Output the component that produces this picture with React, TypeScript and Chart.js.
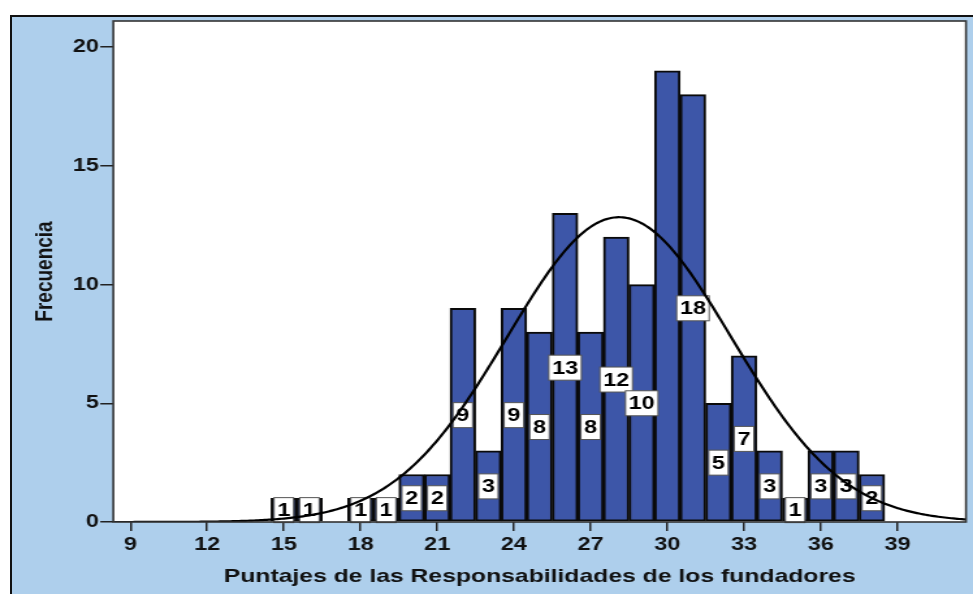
import React, { useEffect, useRef } from "react";
import { Chart, registerables } from "chart.js";

Chart.register(...registerables);

// Histogram of scores (one bin per integer score)
const scores = [15, 16, 17, 18, 19, 20, 21, 22, 23, 24, 25, 26, 27, 28, 29, 30, 31, 32, 33, 34, 35, 36, 37, 38];
const frequencies = [1, 1, 0, 1, 1, 2, 2, 9, 3, 9, 8, 13, 8, 12, 10, 19, 18, 5, 7, 3, 1, 3, 3, 2];
// bins whose count box is not printed
const unlabeledScores = [30];

const xTickValues = [9, 12, 15, 18, 21, 24, 27, 30, 33, 36, 39];
const yTickValues = [0, 5, 10, 15, 20];
const xRange = [8.33, 41.68];
const yRange = [0, 21.1];

const xTitle = "Puntajes de las Responsabilidades de los fundadores";
const yTitle = "Frecuencia";

// Canvas is drawn narrow and widened horizontally
const VIEW_W = 973;
const VIEW_H = 594;
const CANVAS_W = 748;
const STRETCH = VIEW_W / CANVAS_W;

const FONT = "'Liberation Sans', Arial, Helvetica, sans-serif";
const PANEL_BLUE = "#AECFEC";
const BAR_BLUE = "#3D56A8";

// Normal curve fitted to the histogram (mean and sample SD of the binned scores)
function normalCurve() {
  let n = 0;
  let sum = 0;
  scores.forEach((s, i) => {
    n += frequencies[i];
    sum += s * frequencies[i];
  });
  const mean = sum / n;
  let ss = 0;
  scores.forEach((s, i) => {
    ss += frequencies[i] * (s - mean) * (s - mean);
  });
  const sd = Math.sqrt(ss / (n - 1));
  const pts: { x: number; y: number }[] = [];
  const steps = 400;
  for (let k = 0; k <= steps; k++) {
    const x = xRange[0] + ((xRange[1] - xRange[0]) * k) / steps;
    const z = (x - mean) / sd;
    pts.push({ x, y: (n / (sd * Math.sqrt(2 * Math.PI))) * Math.exp(-0.5 * z * z) });
  }
  return pts;
}

const plotPanel = {
  id: "plotPanel",
  beforeDraw(chart: any) {
    const { ctx, chartArea: a } = chart;
    ctx.save();
    ctx.fillStyle = "#ffffff";
    ctx.fillRect(a.left, a.top, a.right - a.left, a.bottom - a.top);
    ctx.restore();
  },
  afterDatasetDraw(chart: any, args: any) {
    if (args.meta.type !== "bar") return;
    const { ctx } = chart;
    const yScale = chart.scales.y;
    ctx.save();
    ctx.font = `bold 18px ${FONT}`;
    ctx.textAlign = "center";
    ctx.textBaseline = "middle";
    args.meta.data.forEach((bar: any, i: number) => {
      const v = frequencies[i];
      if (!v || unlabeledScores.includes(scores[i])) return;
      const text = String(v);
      const w = ctx.measureText(text).width + 5;
      const h = 25;
      const cx = bar.x;
      const cy = yScale.getPixelForValue(v / 2);
      ctx.fillStyle = "#ffffff";
      ctx.fillRect(cx - w / 2, cy - h / 2, w, h);
      ctx.strokeStyle = "#555555";
      ctx.lineWidth = 1;
      ctx.strokeRect(cx - w / 2, cy - h / 2, w, h);
      ctx.fillStyle = "#000000";
      ctx.fillText(text, cx, cy + 1);
    });
    ctx.restore();
  },
  afterDraw(chart: any) {
    const { ctx, chartArea: a } = chart;
    ctx.save();
    ctx.strokeStyle = "#333333";
    ctx.lineWidth = 1.6;
    ctx.strokeRect(a.left, a.top, a.right - a.left, a.bottom - a.top);
    ctx.restore();
  },
};

export default function App() {
  const canvasRef = useRef<HTMLCanvasElement | null>(null);

  useEffect(() => {
    const canvas = canvasRef.current;
    if (!canvas) return;
    const chart = new Chart(canvas, {
      type: "bar",
      data: {
        datasets: [
          {
            type: "line",
            label: "Normal",
            data: normalCurve(),
            borderColor: "#000000",
            borderWidth: 2.2,
            pointRadius: 0,
            tension: 0,
            fill: false,
            order: 0,
          } as any,
          {
            type: "bar",
            label: "Frecuencia",
            data: scores.map((s, i) => ({ x: s, y: frequencies[i] > 0 ? frequencies[i] : null })),
            backgroundColor: BAR_BLUE,
            borderColor: "#0a0a0a",
            borderWidth: 2,
            borderSkipped: false,
            barPercentage: 1,
            categoryPercentage: 1,
            order: 1,
          } as any,
        ],
      },
      options: {
        responsive: false,
        maintainAspectRatio: false,
        animation: false,
        devicePixelRatio: 1,
        layout: { padding: { left: 0, top: 21, right: CANVAS_W - 742.6, bottom: 0 } },
        plugins: { legend: { display: false }, tooltip: { enabled: false } },
        scales: {
          x: {
            type: "linear",
            min: xRange[0],
            max: xRange[1],
            offset: false,
            grid: {
              offset: false,
              drawOnChartArea: false,
              drawTicks: true,
              tickLength: 9,
              color: "#222222",
              lineWidth: 1.5,
            },
            border: { display: false },
            ticks: {
              padding: 3,
              color: "#111111",
              font: { family: FONT, size: 18, weight: "bold" },
            },
            afterBuildTicks: (scale: any) => {
              scale.ticks = xTickValues.map((v) => ({ value: v }));
            },
            afterFit: (scale: any) => {
              scale.height = VIEW_H - 522;
            },
            title: {
              display: true,
              text: xTitle,
              color: "#111111",
              font: { family: FONT, size: 19, weight: "bold" },
              padding: { top: 0, bottom: 5.5 },
            },
          },
          y: {
            type: "linear",
            min: yRange[0],
            max: yRange[1],
            grid: {
              drawOnChartArea: false,
              drawTicks: true,
              tickLength: 10,
              color: "#222222",
              lineWidth: 1.5,
            },
            border: { display: false },
            ticks: {
              padding: 1,
              color: "#111111",
              font: { family: FONT, size: 18, weight: "bold" },
            },
            afterBuildTicks: (scale: any) => {
              scale.ticks = yTickValues.map((v) => ({ value: v }));
            },
            afterFit: (scale: any) => {
              scale.width = 87.1;
            },
            title: {
              display: true,
              text: yTitle,
              color: "#111111",
              font: { family: FONT, size: 19, weight: "bold" },
              padding: { top: 23, bottom: 0 },
            },
          },
        },
      },
      plugins: [plotPanel],
    });
    return () => chart.destroy();
  }, []);

  return (
    <div
      style={{
        position: "fixed",
        left: 0,
        top: 0,
        width: VIEW_W,
        height: VIEW_H,
        overflow: "hidden",
        background: "#ffffff",
      }}
    >
      <div
        style={{
          position: "absolute",
          left: 10,
          top: 15,
          width: VIEW_W + 20,
          height: VIEW_H + 20,
          background: PANEL_BLUE,
          borderLeft: "2px solid #111111",
          borderTop: "2px solid #111111",
          boxSizing: "border-box",
        }}
      />
      <canvas
        ref={canvasRef}
        width={CANVAS_W}
        height={VIEW_H}
        style={{
          position: "absolute",
          left: 0,
          top: 0,
          width: CANVAS_W,
          height: VIEW_H,
          transform: `scaleX(${STRETCH})`,
          transformOrigin: "0 0",
        }}
      />
    </div>
  );
}
